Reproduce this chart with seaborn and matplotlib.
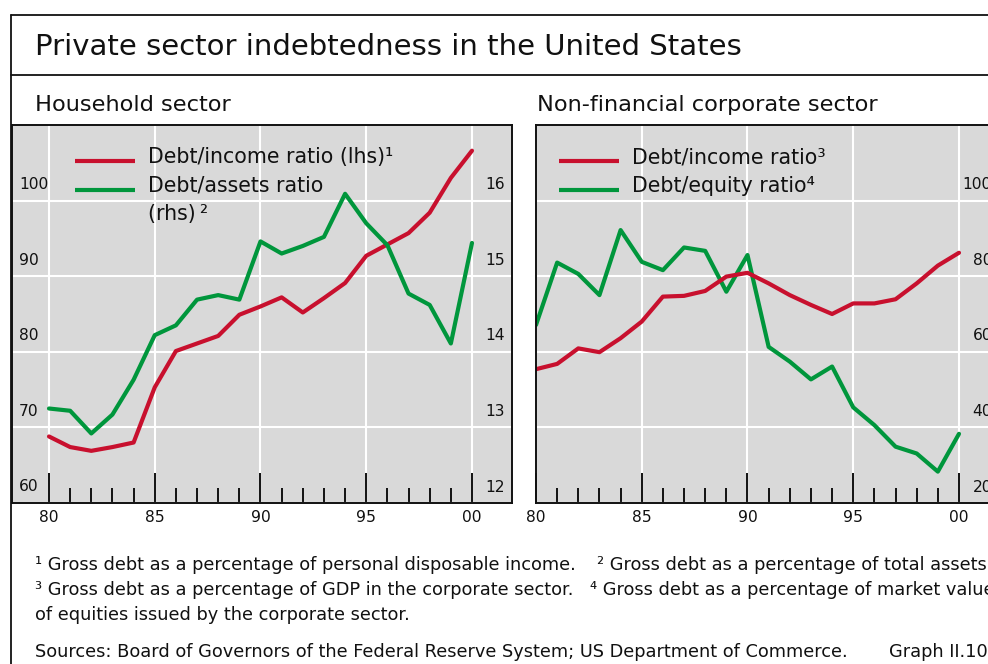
import matplotlib
matplotlib.use("Agg")
import matplotlib.pyplot as plt
import matplotlib.transforms as mtransforms
from matplotlib.lines import Line2D
import seaborn as sns

# ---------------- data ----------------
years = list(range(1980, 2001))
hh_debt_income = [68.8, 67.4, 66.9, 67.4, 68.0, 75.3, 80.1, 81.1, 82.1, 84.9, 86.0,
                  87.2, 85.2, 87.1, 89.1, 92.7, 94.2, 95.7, 98.4, 103.0, 106.6]
hh_debt_assets = [13.25, 13.22, 12.92, 13.17, 13.63, 14.22, 14.35, 14.69, 14.75, 14.69, 15.46,
                  15.30, 15.40, 15.52, 16.09, 15.70, 15.41, 14.77, 14.62, 14.11, 15.44]
corp_debt_income = [55.4, 56.8, 60.9, 59.9, 63.6, 68.0, 74.6, 74.8, 76.1, 79.9, 80.9,
                    78.1, 75.0, 72.4, 70.0, 72.8, 72.8, 73.9, 78.1, 82.8, 86.2]
corp_debt_equity = [67.1, 83.6, 80.6, 75.0, 92.2, 83.8, 81.6, 87.6, 86.7, 75.9, 85.6,
                    61.3, 57.4, 52.7, 56.1, 45.3, 40.6, 34.9, 33.1, 28.3, 38.3]
x_major = [1980, 1985, 1990, 1995, 2000]
x_tick_labels = ["80", "85", "90", "95", "00"]
hh_left_ticks = [60, 70, 80, 90, 100]
hh_right_ticks = [12, 13, 14, 15, 16]
corp_ticks = [20, 40, 60, 80, 100]

RED = "#C8102E"
GREEN = "#00963C"
BG = "#D9D9D9"
INK = "#111111"

sns.set_theme(style="white")
plt.rcParams["font.family"] = ["DejaVu Sans"]

TICK_FS = 11.2
TITLE_FS = 21
SUB_FS = 16.2
LEG_FS = 14.8
NOTE_FS = 12.8

W, H = 988, 664
fig = plt.figure(figsize=(W / 100, H / 100), dpi=100)
fig.patch.set_facecolor("white")


def fx(px):
    return px / W


def fy(py):
    return 1 - py / H


ax1 = fig.add_axes([fx(11.5), fy(503), fx(500), 378 / H])
ax2 = fig.add_axes([fx(536), fy(503), fx(462.5), 378 / H])
ax1r = ax1.twinx()

for ax in (ax1, ax2):
    ax.set_facecolor(BG)
    ax.set_axisbelow(True)
    ax.set_xticks(x_major, labels=x_tick_labels)
    ax.set_xticks(years, minor=True)
    ax.tick_params(axis="x", which="major", direction="in", length=21.6, width=1.4,
                   color=INK, pad=5, labelsize=TICK_FS, labelcolor=INK, bottom=True)
    ax.tick_params(axis="x", which="minor", direction="in", length=10.8, width=1.4,
                   color=INK, bottom=True)
    ax.tick_params(axis="y", left=False, right=False, labelleft=False, labelright=False)
    ax.grid(True, which="major", color="white", linewidth=1.5)
    ax.grid(False, which="minor")
    for s in ax.spines.values():
        s.set_color(INK)
        s.set_linewidth(1.4)

ax1.set_xlim(1978.227, 2001.868)
ax2.set_xlim(1980, 2001.868)
ax1.set_ylim(60, 110)
ax1.set_yticks(hh_left_ticks)
ax1r.set_ylim(12, 17)
ax1r.set_yticks([])
ax2.set_ylim(20, 120)
ax2.set_yticks(corp_ticks)
for s in ax1r.spines.values():
    s.set_visible(False)

sns.lineplot(x=years, y=hh_debt_income, ax=ax1, color=RED, linewidth=3, legend=False)
sns.lineplot(x=years, y=hh_debt_assets, ax=ax1r, color=GREEN, linewidth=3, legend=False)
sns.lineplot(x=years, y=corp_debt_equity, ax=ax2, color=GREEN, linewidth=3, legend=False)
sns.lineplot(x=years, y=corp_debt_income, ax=ax2, color=RED, linewidth=3, legend=False)
ax1r.set_ylabel("")
ax1r.tick_params(axis="y", right=False, labelright=False)


# y tick labels sitting above their gridlines, inside the plot
def ylabels(ax, vals, xpos, ha):
    tr = mtransforms.blended_transform_factory(ax.transAxes, ax.transData)
    tr = mtransforms.offset_copy(tr, fig=fig, x=0, y=16, units="dots")
    for v in vals:
        ax.text(xpos, v, str(v), transform=tr, ha=ha, va="center",
                fontsize=TICK_FS, color=INK)


ylabels(ax1, hh_left_ticks, 7.5 / 500, "left")
ylabels(ax1r, hh_right_ticks, (485 - 11.5) / 500, "left")
ylabels(ax2, corp_ticks, (992 - 536) / 462.5, "right")


# frame
def fline(x0, y0, x1, y1, lw=1.3, color=INK, **kw):
    fig.add_artist(Line2D([fx(x0), fx(x1)], [fy(y0), fy(y1)], color=color,
                          linewidth=lw, transform=fig.transFigure, **kw))


fline(11, 15, 990, 15)
fline(11, 15, 11, 666)
fline(11, 75, 990, 75)

# titles
fig.text(fx(35), fy(47), "Private sector indebtedness in the United States",
         fontsize=TITLE_FS, color=INK, va="center", ha="left")
fig.text(fx(35), fy(105), "Household sector", fontsize=SUB_FS, color=INK,
         va="center", ha="left")
fig.text(fx(537), fy(105), "Non-financial corporate sector", fontsize=SUB_FS, color=INK,
         va="center", ha="left")

# legends
fline(75, 160.5, 135, 160.5, lw=3, color=RED, solid_capstyle="butt")
fline(75, 190, 135, 190, lw=3, color=GREEN, solid_capstyle="butt")
fig.text(fx(148), fy(157), "Debt/income ratio (lhs)\u00b9", fontsize=LEG_FS, color=INK, va="center")
fig.text(fx(148), fy(186), "Debt/assets ratio", fontsize=LEG_FS, color=INK, va="center")
fig.text(fx(148), fy(214), "(rhs)\u2009\u00b2", fontsize=LEG_FS, color=INK, va="center")
fline(559, 160.5, 619, 160.5, lw=3, color=RED, solid_capstyle="butt")
fline(559, 190, 619, 190, lw=3, color=GREEN, solid_capstyle="butt")
fig.text(fx(632), fy(157), "Debt/income ratio\u00b3", fontsize=LEG_FS, color=INK, va="center")
fig.text(fx(632), fy(186), "Debt/equity ratio\u2074", fontsize=LEG_FS, color=INK, va="center")

# footnotes
fs = NOTE_FS
fig.text(fx(35), fy(565), "\u00b9 Gross debt as a percentage of personal disposable income.",
         fontsize=fs, color=INK, va="center")
fig.text(fx(597), fy(565), "\u00b2 Gross debt as a percentage of total assets.",
         fontsize=fs, color=INK, va="center")
fig.text(fx(35), fy(590), "\u00b3 Gross debt as a percentage of GDP in the corporate sector.",
         fontsize=fs, color=INK, va="center")
fig.text(fx(590), fy(590), "\u2074 Gross debt as a percentage of market value",
         fontsize=fs, color=INK, va="center")
fig.text(fx(35), fy(615), "of equities issued by the corporate sector.",
         fontsize=fs, color=INK, va="center")
fig.text(fx(35), fy(652),
         "Sources: Board of Governors of the Federal Reserve System; US Department of Commerce.",
         fontsize=fs, color=INK, va="center")
fig.text(fx(889), fy(652), "Graph II.10", fontsize=fs, color=INK, va="center")

fig.savefig("out.png", dpi=100)
